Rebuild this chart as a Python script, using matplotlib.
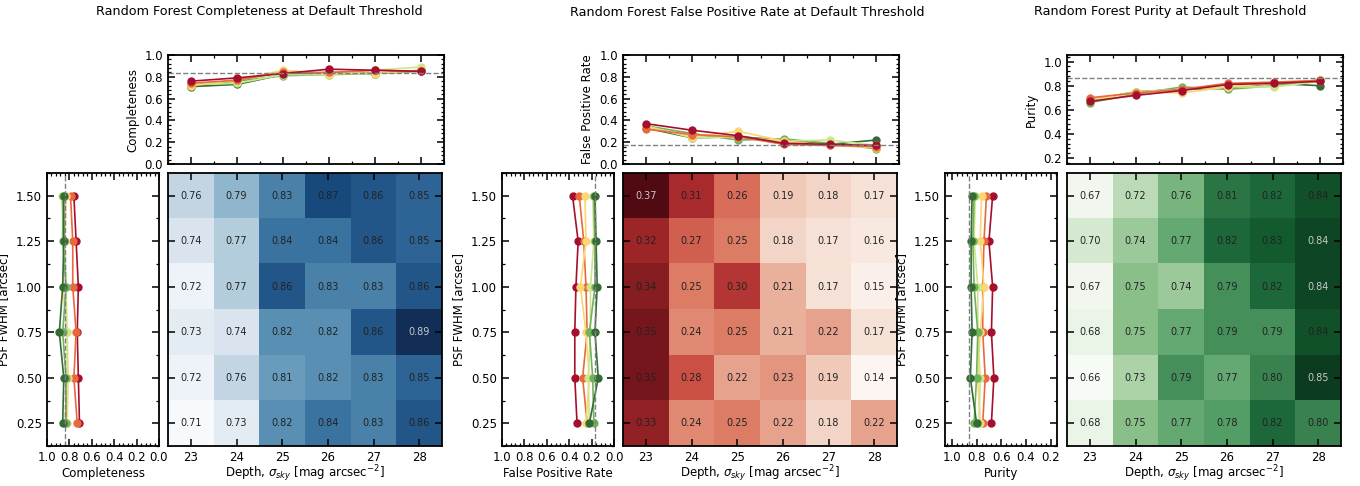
import numpy as np
import matplotlib
matplotlib.use("Agg")
import matplotlib.pyplot as plt
from matplotlib.colors import ListedColormap
from matplotlib.ticker import AutoMinorLocator, MultipleLocator

# Achsenwerte
depths = [23, 24, 25, 26, 27, 28]
psf_fwhm = [1.50, 1.25, 1.00, 0.75, 0.50, 0.25]   # Zeilen von oben nach unten

# Heatmap-Werte (Zeilen = PSF von 1.50 bis 0.25, Spalten = Depth 23..28)
completeness = [
    [0.76, 0.79, 0.83, 0.87, 0.86, 0.85],
    [0.74, 0.77, 0.84, 0.84, 0.86, 0.85],
    [0.72, 0.77, 0.86, 0.83, 0.83, 0.86],
    [0.73, 0.74, 0.82, 0.82, 0.86, 0.89],
    [0.72, 0.76, 0.81, 0.82, 0.83, 0.85],
    [0.71, 0.73, 0.82, 0.84, 0.83, 0.86],
]
false_positive_rate = [
    [0.37, 0.31, 0.26, 0.19, 0.18, 0.17],
    [0.32, 0.27, 0.25, 0.18, 0.17, 0.16],
    [0.34, 0.25, 0.30, 0.21, 0.17, 0.15],
    [0.35, 0.24, 0.25, 0.21, 0.22, 0.17],
    [0.35, 0.28, 0.22, 0.23, 0.19, 0.14],
    [0.33, 0.24, 0.25, 0.22, 0.18, 0.22],
]
purity = [
    [0.67, 0.72, 0.76, 0.81, 0.82, 0.836],
    [0.70, 0.74, 0.77, 0.82, 0.83, 0.844],
    [0.67, 0.75, 0.74, 0.79, 0.82, 0.844],
    [0.68, 0.75, 0.77, 0.79, 0.79, 0.836],
    [0.66, 0.73, 0.79, 0.77, 0.80, 0.85],
    [0.68, 0.75, 0.77, 0.78, 0.82, 0.80],
]

# Referenzwerte (gestrichelte Linien)
ref_completeness = 0.835
ref_fpr = 0.174
ref_purity = 0.865

metrics = [
    ("Completeness", completeness, "Blues", ref_completeness, (0.0, 1.0)),
    ("False Positive Rate", false_positive_rate, "Reds", ref_fpr, (0.0, 1.0)),
    ("Purity", purity, "Greens", ref_purity, (0.15, 1.055)),
]

# Linienfarben: rot (index 0) bis dunkelgrün (index 5)
line_colors = ['#a50f2d', '#e8693d', '#fbd672', '#cfe58a', '#70b25c', '#336b35']

# Gruppen-Positionen in Pixel (links Seitenpanel, dann Heatmap)
W, H = 1360, 486
side_x = [47, 502, 945]
heat_x = [168, 623, 1067]
side_w = 112
heat_w = 274
title_cx = [259, 747, 1170]

plt.rcParams['axes.linewidth'] = 1.3
plt.rcParams['font.size'] = 8.5

fig = plt.figure(figsize=(W / 100, H / 100), dpi=100)

main_b = (H - 446) / H
main_h = 273 / H
top_b = (H - 164) / H
top_h = 109 / H


def muted_cmap(name, desat=0.3):
    # Farbskala etwas entsättigen, damit sie dem Original näher kommt
    cols = plt.get_cmap(name)(np.linspace(0, 1, 256))[:, :3]
    lum = cols @ np.array([0.3, 0.59, 0.11])
    cols = (1 - desat) * cols + desat * lum[:, None]
    return ListedColormap(np.clip(cols, 0, 1))


def style_ticks(ax):
    ax.tick_params(which='both', direction='in', top=True, right=True)
    ax.tick_params(which='major', length=5, width=1.1)
    ax.tick_params(which='minor', length=2.5, width=0.9)


for i, (name, values, cmap, ref, lims) in enumerate(metrics):
    data = np.array(values)

    # Heatmap
    ax_h = fig.add_axes([heat_x[i] / W, main_b, heat_w / W, main_h])
    ax_h.imshow(data[::-1], cmap=muted_cmap(cmap), origin='lower', aspect='auto',
                extent=[22.5, 28.5, 0.125, 1.625],
                vmin=data.min(), vmax=data.max(), interpolation='nearest')
    norm = (data - data.min()) / (data.max() - data.min())
    for r, psf in enumerate(psf_fwhm):
        for c, d in enumerate(depths):
            col = '#c8c8c8' if norm[r, c] > 0.94 else '#222222'
            ax_h.text(d, psf, f"{data[r, c]:.2f}", ha='center', va='center',
                      fontsize=7, color=col)
    ax_h.set_xticks(depths)
    ax_h.set_yticks(psf_fwhm)
    ax_h.tick_params(direction='in', top=True, right=True, length=5, width=1.1,
                     labelleft=False)
    ax_h.set_xlim(22.5, 28.5)
    ax_h.set_ylim(0.125, 1.625)
    ax_h.set_xlabel(r"Depth, $\sigma_{sky}$ [mag arcsec$^{-2}$]", labelpad=0)

    # Oberes Panel: Werte vs Depth, je PSF eine Linie (0.25 zuerst, 1.50 zuletzt)
    ax_t = fig.add_axes([heat_x[i] / W, top_b, (heat_w + 2) / W, top_h])
    for r in reversed(range(len(psf_fwhm))):
        ax_t.plot(depths, data[r], '-o', color=line_colors[r], lw=1.2, ms=5)
    ax_t.axhline(ref, color='gray', ls='--', lw=1)
    ax_t.set_xlim(22.5, 28.5)
    ax_t.set_ylim(*lims)
    ax_t.set_xticks(depths)
    ax_t.xaxis.set_minor_locator(AutoMinorLocator(2))
    ax_t.yaxis.set_major_locator(MultipleLocator(0.2))
    ax_t.yaxis.set_minor_locator(AutoMinorLocator(5))
    style_ticks(ax_t)
    ax_t.tick_params(labelbottom=False)
    ax_t.set_ylabel(name)

    # Seitenpanel: Werte vs PSF, je Depth eine Linie
    ax_s = fig.add_axes([side_x[i] / W, main_b, side_w / W, main_h])
    for c in range(len(depths)):
        ax_s.plot(data[:, c], psf_fwhm, '-o', color=line_colors[c], lw=1.2, ms=5)
    ax_s.axvline(ref, color='gray', ls='--', lw=1)
    ax_s.set_xlim(lims[1], lims[0])
    ax_s.set_ylim(0.125, 1.625)
    ax_s.set_yticks(psf_fwhm)
    ax_s.yaxis.set_minor_locator(AutoMinorLocator(2))
    ax_s.xaxis.set_major_locator(MultipleLocator(0.2))
    ax_s.xaxis.set_minor_locator(AutoMinorLocator(5))
    style_ticks(ax_s)
    ax_s.set_xlabel(name, labelpad=2)
    ax_s.set_ylabel("PSF FWHM [arcsec]")

    fig.text(title_cx[i] / W, 1 - 12 / H,
             f"Random Forest {name} at Default Threshold",
             ha='center', va='center', fontsize=9.2)

fig.savefig("out.png", dpi=100)
